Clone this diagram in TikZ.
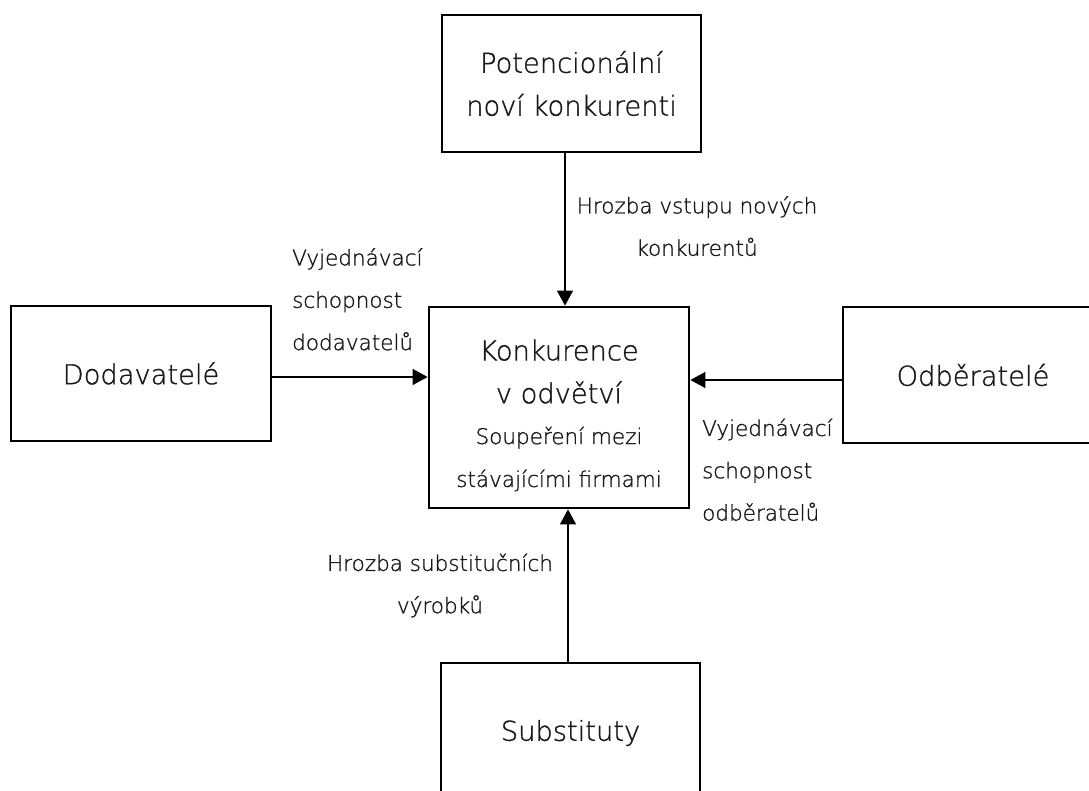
\documentclass[tikz,border=0pt]{standalone}
\usepackage{fontspec}
\setmainfont{DejaVu Sans ExtraLight}[BoldFont={DejaVu Sans ExtraLight}, BoldFeatures={FakeBold=1.1}]
\usetikzlibrary{arrows.meta}
\tikzset{
  box/.style={draw=black, line width=2.8bp, inner sep=0pt, align=center,
    font=\bfseries\fontsize{27.4}{43}\selectfont, text=black!90},
  lbl/.style={inner sep=0pt, font=\bfseries\fontsize{21.6}{42.5}\selectfont, text=black!90},
  arr/.style={line width=1.2bp, -{Triangle[length=15bp,width=16bp]}}
}
\begin{document}
\begin{tikzpicture}[x=1bp,y=-1bp]
\useasboundingbox (0,0) rectangle (1089,791);
\clip (0,0) rectangle (1089,791);
\node[box, minimum width=259bp, minimum height=137bp] (top) at (571.5,83.5)
  {Potencionální\\noví konkurenti};
\node[box, minimum width=260bp, minimum height=135bp] (left) at (141,373.5)
  {Dodavatelé};
\node[box, minimum width=260bp, minimum height=201bp,
  label={[inner sep=0pt, align=center, text=black!90, font=\bfseries\fontsize{27.4}{43}\selectfont, yshift=-8bp]center:Konkurence\\v odvětví\\[-2bp]{\fontsize{21.6}{42.5}\selectfont Soupeření mezi}\\{\fontsize{21.6}{42.5}\selectfont stávajícími firmami}}]
  (center) at (559,407.5) {};
\node[box, minimum width=260bp, minimum height=136bp] (right) at (973,375)
  {Odběratelé};
\node[box, minimum width=259bp, minimum height=140bp] (bottom) at (570.5,733)
  {Substituty};
\coordinate (tx) at (565,0);
\coordinate (bx) at (568,0);
\coordinate (ly) at (0,377);
\coordinate (ry) at (0,380);
\draw[arr] (top.south -| tx) -- (center.north -| tx);
\draw[arr] (bottom.north -| bx) -- (center.south -| bx);
\draw[arr] (left.east |- ly) -- (center.west |- ly);
\draw[arr] (right.west |- ry) -- (center.east |- ry);
\node[lbl, align=center, anchor=north] (lt) at (697,196) {Hrozba vstupu nových\\konkurentů};
\node[lbl, align=left, anchor=north west] (ll) at (292,248) {Vyjednávací\\schopnost\\dodavatelů};
\node[lbl, align=left, anchor=north west] (lr) at (702,418.5) {Vyjednávací\\schopnost\\odběratelů};
\node[lbl, align=center, anchor=north] (lb) at (440,553.5) {Hrozba substitučních\\výrobků};
\end{tikzpicture}
\end{document}
